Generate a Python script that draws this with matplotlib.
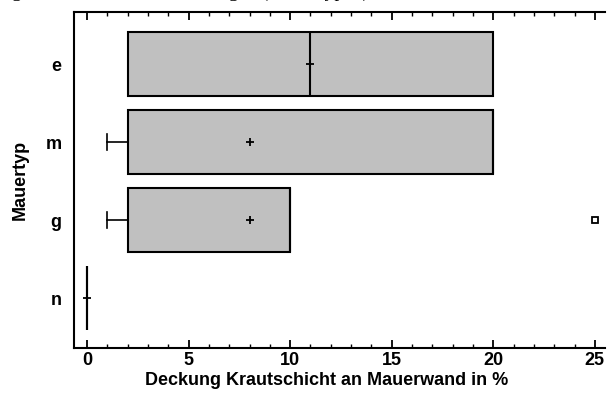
import matplotlib
matplotlib.use("Agg")
import matplotlib.pyplot as plt
from matplotlib.ticker import MultipleLocator

# Data
categories = ["n", "g", "m", "e"]
q1 = [0, 2, 2, 2]
median = [0, 10, 20, 11]
q3 = [0, 10, 20, 20]
whisk_lo = [0, 1, 1, 2]
whisk_hi = [0, 10, 20, 20]
means = [0, 8, 8, 11]
outliers = [[], [25], [], []]

xlabel = "Deckung Krautschicht an Mauerwand in %"
ylabel = "Mauertyp"
x_ticks = [0, 5, 10, 15, 20, 25]
title = "Deckung Krautschicht der Mauerfugen (Mauertypen)"

plt.rcParams['font.family'] = ['Liberation Sans', 'DejaVu Sans']
fig = plt.figure(figsize=(6.08, 4.0), dpi=100)
ax = fig.add_axes([74/608, 1-348/400, (605-74)/608, (348-12)/400])

stats = []
for i, c in enumerate(categories):
    stats.append(dict(label=c, q1=q1[i], med=median[i], q3=q3[i],
                      whislo=whisk_lo[i], whishi=whisk_hi[i],
                      mean=means[i], fliers=outliers[i]))

positions = list(range(len(categories)))
ax.bxp(stats, positions=positions, vert=False, widths=0.82, patch_artist=True,
       showmeans=True, showfliers=True, capwidths=0.2,
       boxprops=dict(facecolor="#c0c0c0", edgecolor="black", linewidth=1.5),
       medianprops=dict(color="black", linewidth=1.5),
       whiskerprops=dict(color="black", linewidth=1.2),
       capprops=dict(color="black", linewidth=1.2),
       meanprops=dict(marker="+", markeredgecolor="black", markersize=6, markeredgewidth=1.3),
       flierprops=dict(marker="s", markerfacecolor="white", markeredgecolor="black",
                       markersize=5, markeredgewidth=1.3))

ax.set_xlim(-0.64, 25.5)
ax.set_ylim(-0.64, 3.67)
ax.set_yticks(positions)
ax.set_yticklabels(categories, fontsize=13, fontweight="bold")
ax.tick_params(axis="y", length=0, pad=9)
ax.set_xticks(x_ticks)
ax.set_xticklabels([str(t) for t in x_ticks], fontsize=13, fontweight="bold")
ax.xaxis.set_minor_locator(MultipleLocator(1))
ax.tick_params(axis="x", which="major", direction="in", length=6, width=1.3, top=True, pad=3)
ax.tick_params(axis="x", which="minor", direction="in", length=3, width=1.0, top=True)
ax.set_xlabel(xlabel, fontsize=13, fontweight="bold", labelpad=2)
ax.xaxis.set_label_coords((327-74)/531, -0.07, transform=ax.transAxes)
ax.xaxis.label.set_va("top")
ax.set_ylabel(ylabel, fontsize=13, fontweight="bold", labelpad=12)
for s in ["left", "bottom", "top"]:
    ax.spines[s].set_linewidth(1.5)
ax.spines["right"].set_visible(False)

fig.text(160/608, 1 + 3/400, title,
         family="Liberation Serif", fontsize=14, ha="center", va="baseline")

fig.savefig("out.png", dpi=100)
